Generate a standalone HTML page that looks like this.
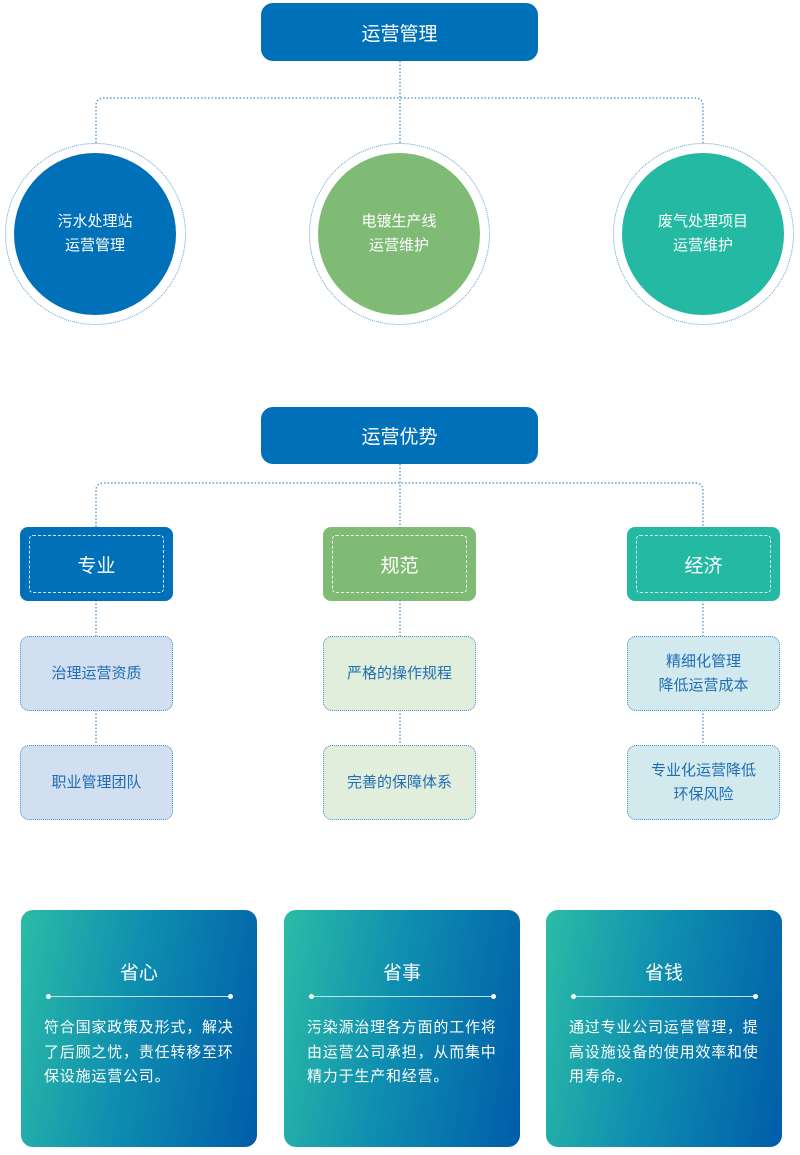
<!DOCTYPE html>
<html><head><meta charset="utf-8"><style>
*{margin:0;padding:0;box-sizing:border-box}
body{width:800px;height:1155px;background:#fff;position:relative;font-family:"Liberation Sans","Noto Sans CJK SC",sans-serif;overflow:hidden}
.a{position:absolute}
.hdr{background:#0070b9;color:#fff;border-radius:12px;font-size:19px;display:flex;align-items:center;justify-content:center}
.ring{border:1.5px dotted #5a9fd4;border-radius:50%}
.circ{border-radius:50%;color:#fff;font-size:15px;line-height:24px;display:flex;align-items:center;justify-content:center;text-align:center}
.cat{border-radius:8px;color:#fff;font-size:19px;display:flex;align-items:center;justify-content:center}
.cat::after{content:"";position:absolute;left:9px;top:8px;right:9px;bottom:8px;border:1.5px dashed rgba(255,255,255,.85);border-radius:4px}
.lb{border:1.5px dotted #4a94d0;border-radius:9px;color:#1f6db5;font-size:15px;line-height:24px;display:flex;align-items:center;justify-content:center;text-align:center}
.card{border-radius:12px;background:linear-gradient(100deg,#2bbca6 0%,#0f8fb0 45%,#005ca9 100%);color:#fff}
.card h3{position:absolute;top:48px;left:0;right:0;text-align:center;font-weight:normal;font-size:19px}
.card .ln{position:absolute;top:86px;left:27px;width:183px;height:1px;background:#bfe6ef}
.card .ln::before,.card .ln::after{content:"";position:absolute;top:-2px;width:5px;height:5px;border-radius:50%;background:#fff}
.card .ln::before{left:-2px}.card .ln::after{right:-2px}
.card p{position:absolute;top:106px;left:23px;width:200px;font-size:15px;line-height:24.5px;letter-spacing:0.8px}
</style></head><body>
<svg class="a" style="left:0;top:0" width="800" height="1155">
<g fill="none" stroke="#5a9fd4" stroke-width="1.5" stroke-dasharray="1.5 2">
<path d="M400 61V143"/>
<path d="M96 143V106Q96 98 104 98H695Q703 98 703 106V143"/>
<path d="M400 464V527"/>
<path d="M96 527V491Q96 483 104 483H695Q703 483 703 491V527"/>
<path d="M96 600V636M96 710V745M400 600V636M400 710V745M703 600V636M703 710V745"/>
</g></svg>
<div class="a hdr" style="left:261px;top:3px;width:277px;height:58px">运营管理</div>
<div class="a ring" style="left:5px;top:143px;width:181px;height:182px"></div>
<div class="a ring" style="left:309px;top:143px;width:181px;height:182px"></div>
<div class="a ring" style="left:613px;top:143px;width:181px;height:182px"></div>
<div class="a circ" style="left:14px;top:153px;width:162px;height:162px;background:#0070b9">污水处理站<br>运营管理</div>
<div class="a circ" style="left:318px;top:153px;width:162px;height:162px;background:#7fbb74">电镀生产线<br>运营维护</div>
<div class="a circ" style="left:622px;top:153px;width:162px;height:162px;background:#23b9a3">废气处理项目<br>运营维护</div>
<div class="a hdr" style="left:261px;top:407px;width:277px;height:57px">运营优势</div>
<div class="a cat" style="left:20px;top:527px;width:153px;height:74px;background:#0070b9">专业</div>
<div class="a cat" style="left:323px;top:527px;width:153px;height:74px;background:#7fbb74">规范</div>
<div class="a cat" style="left:627px;top:527px;width:153px;height:74px;background:#23b9a3">经济</div>
<div class="a lb" style="left:20px;top:636px;width:153px;height:75px;background:#d2dff1">治理运营资质</div>
<div class="a lb" style="left:20px;top:745px;width:153px;height:75px;background:#d2dff1">职业管理团队</div>
<div class="a lb" style="left:323px;top:636px;width:153px;height:75px;background:#e0eedb">严格的操作规程</div>
<div class="a lb" style="left:323px;top:745px;width:153px;height:75px;background:#e0eedb">完善的保障体系</div>
<div class="a lb" style="left:627px;top:636px;width:153px;height:75px;background:#d2eaee">精细化管理<br>降低运营成本</div>
<div class="a lb" style="left:627px;top:745px;width:153px;height:75px;background:#d2eaee">专业化运营降低<br>环保风险</div>
<div class="a card" style="left:21px;top:910px;width:236px;height:237px"><h3>省心</h3><div class="ln"></div><p>符合国家政策及形式，解决了后顾之忧，责任转移至环保设施运营公司。</p></div>
<div class="a card" style="left:284px;top:910px;width:236px;height:237px"><h3>省事</h3><div class="ln"></div><p>污染源治理各方面的工作将由运营公司承担，从而集中精力于生产和经营。</p></div>
<div class="a card" style="left:546px;top:910px;width:236px;height:237px"><h3>省钱</h3><div class="ln"></div><p>通过专业公司运营管理，提高设施设备的使用效率和使用寿命。</p></div>
</body></html>
